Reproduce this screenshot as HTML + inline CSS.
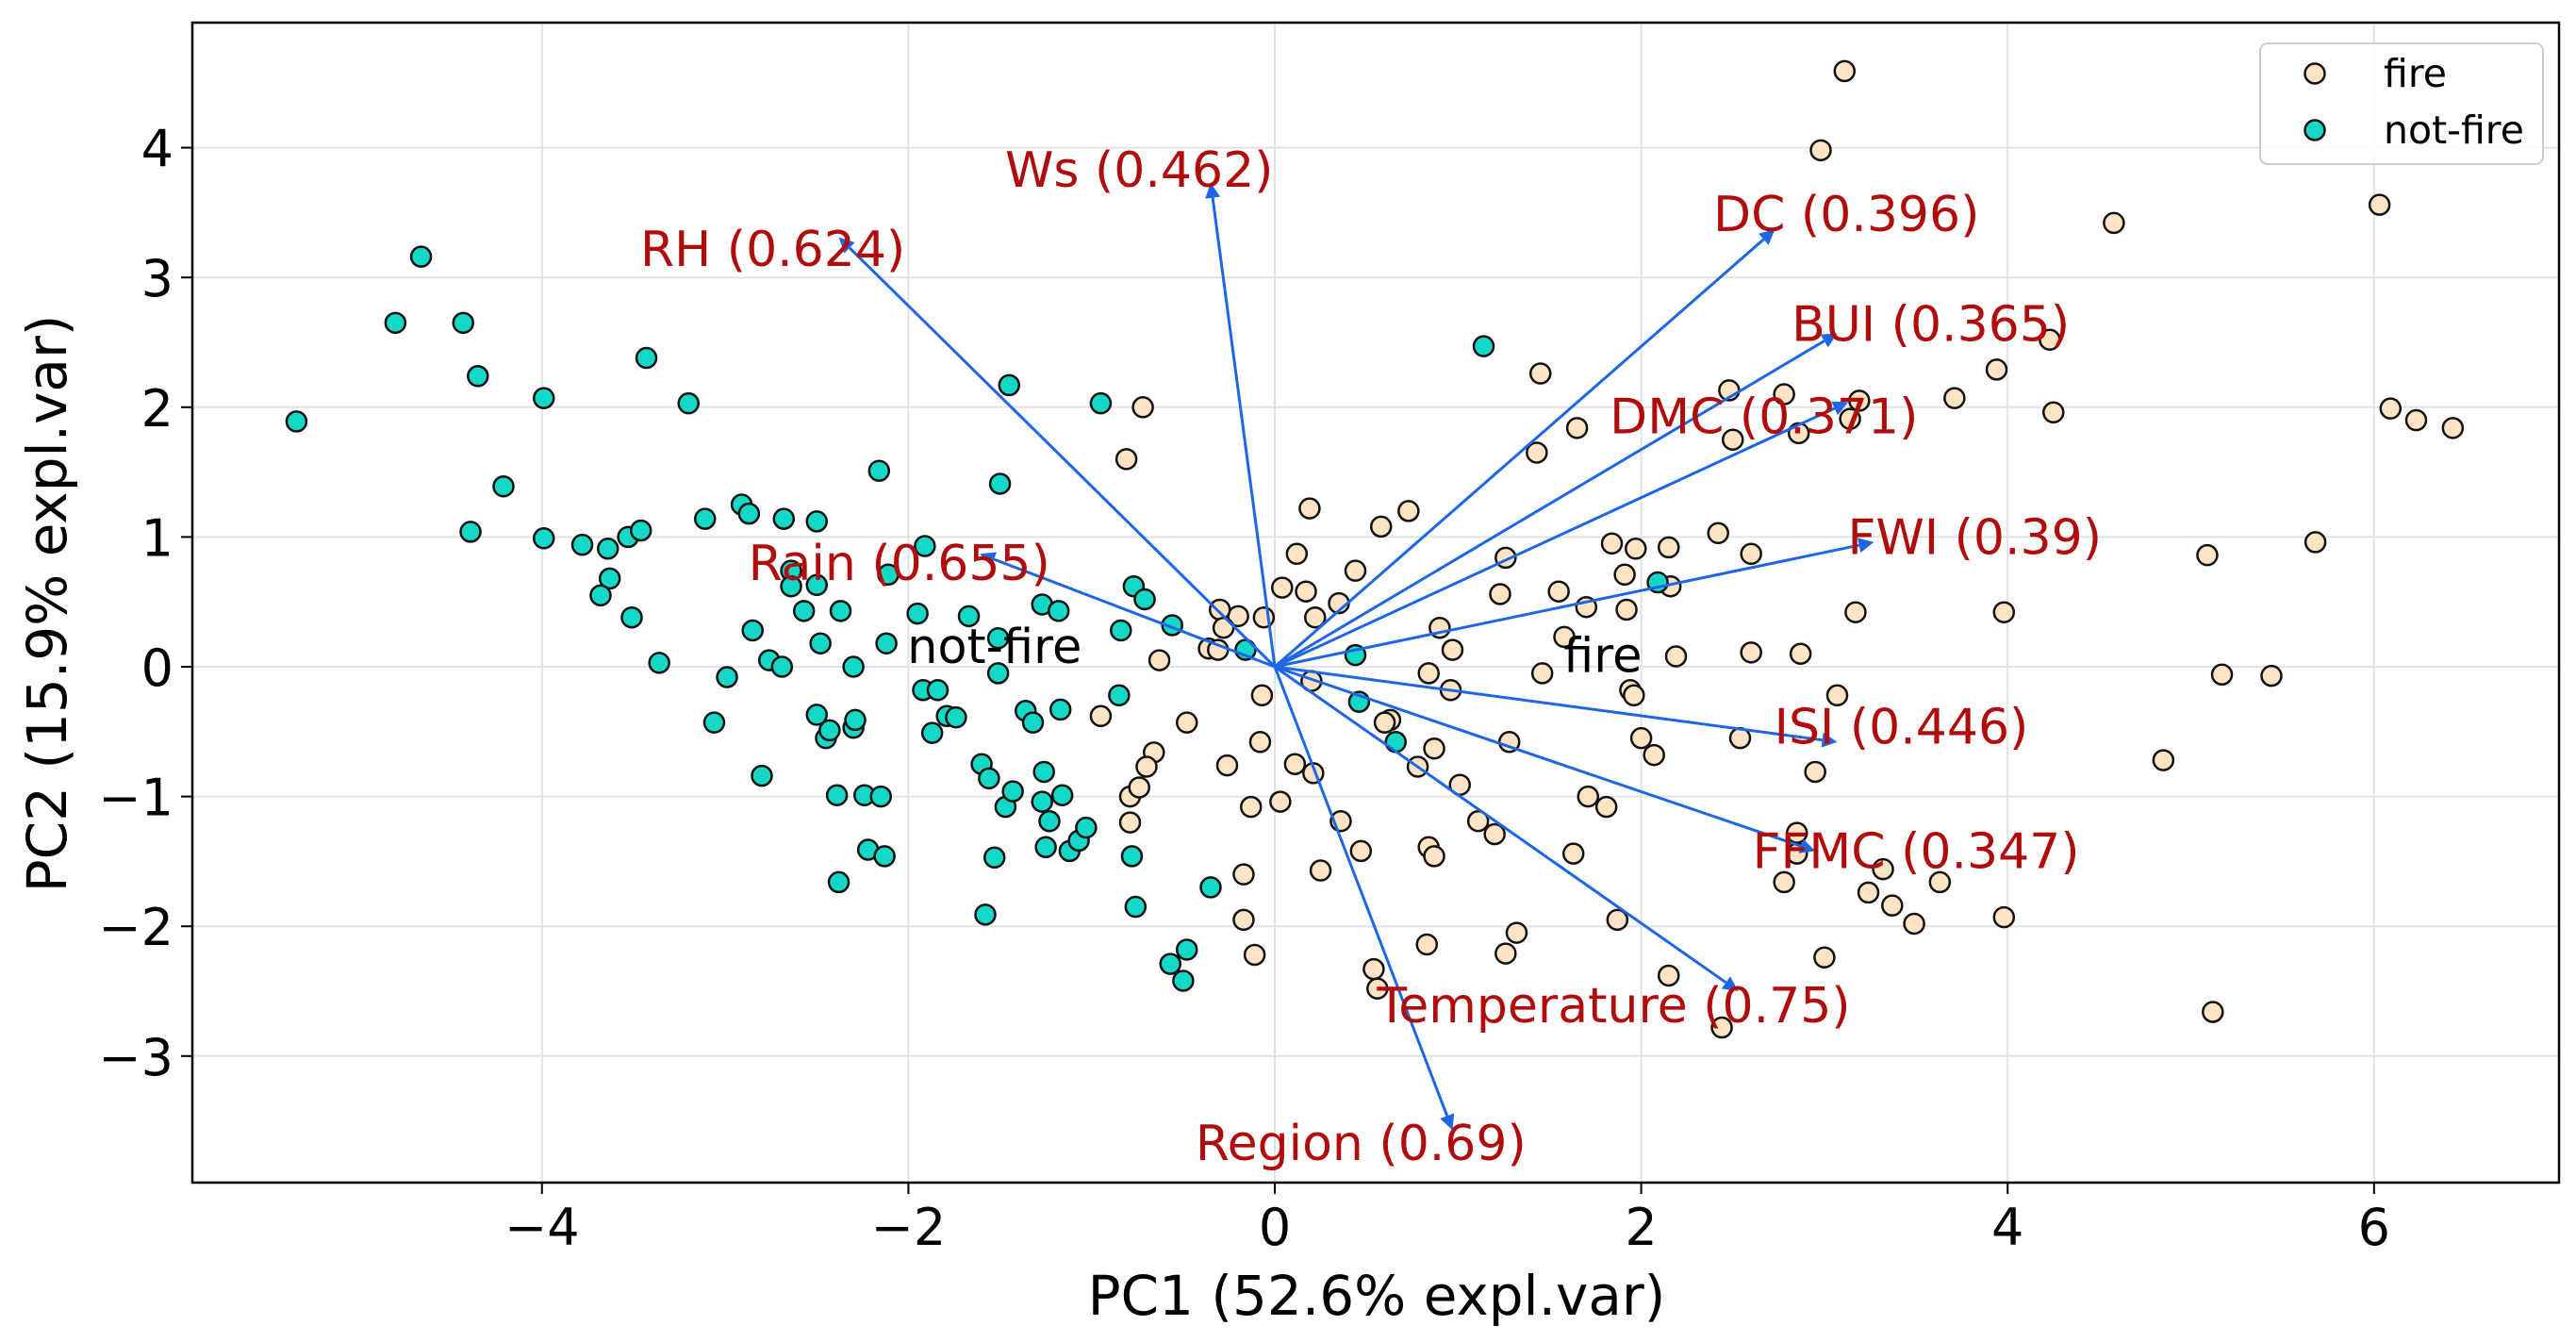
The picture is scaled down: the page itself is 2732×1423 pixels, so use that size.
<!DOCTYPE html>
<html><head><meta charset="utf-8">
<style>
html,body{margin:0;padding:0;background:#fff;}
svg{display:block;font-family:"DejaVu Sans","Liberation Sans",sans-serif;}
</style></head>
<body>
<svg id="chart" width="2732" height="1423" viewBox="0 0 2732 1423" xmlns="http://www.w3.org/2000/svg"></svg>
<script>
const xTicks=[-4,-2,0,2,4,6];
const yTicks=[-3,-2,-1,0,1,2,3,4];
const notFireX=[-5.34,-4.66,-4.80,-4.43,-4.35,-4.21,-4.39,-3.99,-3.99,-3.43,-3.20,-3.78,-3.64,-3.53,-3.46,-3.63,-3.68,-3.51,-3.36,-3.11,-2.91,-2.87,-2.99,-3.06,-2.85,-2.80,-2.76,-2.69,-2.68,-2.64,-2.64,-2.57,-2.50,-2.50,-2.48,-2.50,-2.45,-2.43,-2.37,-2.39,-2.38,-2.30,-2.30,-2.29,-2.24,-2.22,-2.16,-2.15,-2.13,-2.12,-2.11,-1.95,-1.91,-1.92,-1.87,-1.84,-1.79,-1.74,-1.67,-1.60,-1.58,-1.56,-1.53,-1.51,-1.51,-1.50,-1.47,-1.45,-1.43,-1.36,-1.32,-1.27,-1.27,-1.26,-1.25,-1.23,-1.18,-1.17,-1.16,-1.12,-1.07,-1.03,-0.95,-0.84,-0.85,-0.77,-0.76,-0.78,-0.71,-0.56,-0.57,-0.50,-0.48,-0.35,-0.16,0.44,0.46,0.66,1.14,2.09];
const notFireY=[1.89,3.16,2.65,2.65,2.24,1.39,1.04,2.07,0.99,2.38,2.03,0.94,0.91,1.00,1.05,0.68,0.55,0.38,0.03,1.14,1.25,1.18,-0.08,-0.43,0.28,-0.84,0.05,0.00,1.14,0.74,0.62,0.43,1.12,0.63,0.18,-0.37,-0.55,-0.49,0.43,-0.99,-1.66,0.00,-0.47,-0.41,-0.99,-1.41,1.51,-1.00,-1.46,0.18,0.71,0.41,0.93,-0.18,-0.51,-0.18,-0.38,-0.39,0.39,-0.75,-1.91,-0.86,-1.47,-0.05,0.22,1.41,-1.08,2.17,-0.96,-0.34,-0.43,0.48,-1.04,-0.81,-1.39,-1.19,0.43,-0.33,-0.99,-1.42,-1.34,-1.24,2.03,0.28,-0.22,0.62,-1.85,-1.46,0.52,0.32,-2.29,-2.42,-2.18,-1.70,0.13,0.09,-0.27,-0.58,2.47,0.65];
const fireX=[3.11,2.98,4.58,6.03,1.45,2.48,2.78,3.19,3.71,3.94,4.23,4.25,6.09,6.23,6.43,5.68,5.09,-0.72,-0.81,1.65,2.50,2.86,3.14,1.43,0.19,0.73,0.58,1.26,1.84,1.97,2.15,2.42,2.60,0.12,0.17,0.04,0.44,0.35,0.22,1.23,1.55,1.70,1.91,2.16,1.92,3.17,3.98,-0.20,-0.30,-0.28,-0.06,-0.36,-0.31,-0.63,0.90,0.97,1.46,1.58,2.19,2.60,2.87,3.07,5.17,0.84,0.96,1.94,1.96,-0.07,0.20,-0.48,-0.95,-0.66,-0.70,-0.08,0.11,0.21,-0.26,0.63,0.60,0.87,0.78,1.01,1.28,2.00,2.07,2.54,2.95,4.85,-0.79,-0.74,-0.79,-0.13,0.03,0.36,1.71,1.81,1.11,1.20,0.47,0.84,0.87,1.63,-0.17,0.25,2.85,2.85,2.78,3.32,3.24,3.37,3.49,3.63,3.98,-0.17,-0.11,0.54,0.56,0.83,1.26,1.32,1.87,2.15,2.44,3.00,5.12,5.44];
const fireY=[4.59,3.98,3.42,3.56,2.26,2.13,2.10,2.05,2.07,2.29,2.52,1.96,1.99,1.90,1.84,0.96,0.86,2.00,1.60,1.84,1.75,1.80,1.91,1.65,1.22,1.20,1.08,0.84,0.95,0.91,0.92,1.03,0.87,0.87,0.58,0.61,0.74,0.49,0.38,0.56,0.58,0.46,0.71,0.62,0.44,0.42,0.42,0.39,0.44,0.30,0.38,0.14,0.13,0.05,0.30,0.13,-0.05,0.23,0.08,0.11,0.10,-0.22,-0.06,-0.05,-0.18,-0.18,-0.22,-0.22,-0.11,-0.43,-0.38,-0.66,-0.77,-0.58,-0.75,-0.82,-0.76,-0.41,-0.43,-0.63,-0.77,-0.91,-0.58,-0.55,-0.68,-0.55,-0.81,-0.72,-1.00,-0.93,-1.20,-1.08,-1.04,-1.19,-1.00,-1.08,-1.19,-1.29,-1.42,-1.39,-1.46,-1.44,-1.60,-1.57,-1.28,-1.44,-1.66,-1.56,-1.74,-1.84,-1.98,-1.66,-1.93,-1.95,-2.22,-2.33,-2.48,-2.14,-2.21,-2.05,-1.95,-2.38,-2.78,-2.24,-2.66,-0.07];
const loadNames=["Ws (0.462)","RH (0.624)","DC (0.396)","BUI (0.365)","DMC (0.371)","FWI (0.39)","ISI (0.446)","FFMC (0.347)","Temperature (0.75)","Region (0.69)","Rain (0.655)"];
const loadX=[-0.35,-2.38,2.73,3.07,3.13,3.27,3.07,2.95,2.53,0.97,-1.61];
const loadY=[3.73,3.31,3.37,2.57,2.04,0.96,-0.58,-1.42,-2.50,-3.57,0.87];
const labelX=[-0.74,-2.74,3.12,3.58,2.67,3.82,3.42,3.50,1.85,0.47,-2.05];
const labelY=[3.83,3.22,3.49,2.64,1.93,1.00,-0.46,-1.42,-2.61,-3.67,0.80];

const L=204,R=2714,T=24,B=1254;
const X0=1352,XS=194.3,Y0=707,YS=137.6;
const sx=v=>X0+v*XS, sy=v=>Y0-v*YS;
const svg=document.getElementById('chart');
const NS='http://www.w3.org/2000/svg';
function mk(tag,attrs,parent){const e=document.createElementNS(NS,tag);for(const k in attrs)e.setAttribute(k,attrs[k]);(parent||svg).appendChild(e);return e;}
const fmt=v=>v<0?'\u2212'+Math.abs(v):String(v);

const grid=mk('g',{});


xTicks.forEach(t=>{
  mk('line',{x1:sx(t),x2:sx(t),y1:T,y2:B,stroke:'#e3e3e3','stroke-width':2},grid);
  mk('line',{x1:sx(t),x2:sx(t),y1:B,y2:B+12,stroke:'#000','stroke-width':2});
  const tx=mk('text',{x:sx(t),y:B+66,'font-size':54,'text-anchor':'middle',fill:'#000'});
  
  
  tx.textContent=fmt(t);
});
yTicks.forEach(t=>{
  mk('line',{x1:L,x2:R,y1:sy(t),y2:sy(t),stroke:'#e3e3e3','stroke-width':2},grid);
  mk('line',{x1:L-12,x2:L,y1:sy(t),y2:sy(t),stroke:'#000','stroke-width':2});
  const tx=mk('text',{x:L-20,y:sy(t)+20,'font-size':54,'text-anchor':'end',fill:'#000'});
  
  
  tx.textContent=fmt(t);
});

const pts=mk('g',{});


fireX.forEach((x,i)=>{
  const c=mk('circle',{cx:sx(x),cy:sy(fireY[i]),r:10.5,fill:'#ffe4c4',stroke:'#111','stroke-width':2.5},pts);
  
  
});
notFireX.forEach((x,i)=>{
  const c=mk('circle',{cx:sx(x),cy:sy(notFireY[i]),r:10.5,fill:'#14d8c6',stroke:'#111','stroke-width':2.5},pts);
  
  
});

const arr=mk('g',{});


loadX.forEach((x,i)=>{
  const x1=sx(0),y1=sy(0),x2=sx(x),y2=sy(loadY[i]);
  const dx=x2-x1,dy=y2-y1,len=Math.hypot(dx,dy),ux=dx/len,uy=dy/len;
  const hl=16,hw=8;
  const bx=x2-ux*hl,by=y2-uy*hl;
  const ln=mk('line',{x1:x1,y1:y1,x2:bx,y2:by,stroke:'#1f66e5','stroke-width':3},arr);
  
  
  const hd=mk('polygon',{points:`${x2},${y2} ${bx-uy*hw},${by+ux*hw} ${bx+uy*hw},${by-ux*hw}`,fill:'#1f66e5'},arr);
  
  
  const tx=mk('text',{x:sx(labelX[i]),y:sy(labelY[i])+18,'font-size':52,'text-anchor':'middle',fill:'#b00c0c'});
  
  
  tx.textContent=loadNames[i];
});

const classNames=["not-fire","fire"];
const classX=[-1.53,1.79];
const classY=[0.16,0.09];
classNames.forEach((n,i)=>{
  const tx=mk('text',{x:sx(classX[i]),y:sy(classY[i])+18,'font-size':51,'text-anchor':'middle',fill:'#000'});
  
  
  tx.textContent=n;
});

const frame=mk('rect',{x:L,y:T,width:R-L,height:B-T,fill:'none',stroke:'#000','stroke-width':2.5});



const lg=mk('g',{});


mk('rect',{x:2397,y:46,width:300,height:128,rx:8,fill:'#fff','fill-opacity':0.85,stroke:'#ccc','stroke-width':2},lg);
const legNames=["fire","not-fire"];
const legColors=["#ffe4c4","#14d8c6"];
legNames.forEach((n,i)=>{
  const y=78+i*60;
  const c=mk('circle',{cx:2455,cy:y,r:10.5,fill:legColors[i],stroke:'#111','stroke-width':2.5},lg);
  
  
  const t=mk('text',{x:2528,y:y+14,'font-size':41,fill:'#000'},lg);
  
  
  t.textContent=n;
});

const xl=mk('text',{x:1460,y:1394,'font-size':58,'text-anchor':'middle',fill:'#000'});


xl.textContent='PC1 (52.6% expl.var)';
const yl=mk('text',{x:0,y:0,'font-size':58,'text-anchor':'middle',fill:'#000',transform:'translate(70,640) rotate(-90)'});


yl.textContent='PC2 (15.9% expl.var)';
</script>
</body></html>
